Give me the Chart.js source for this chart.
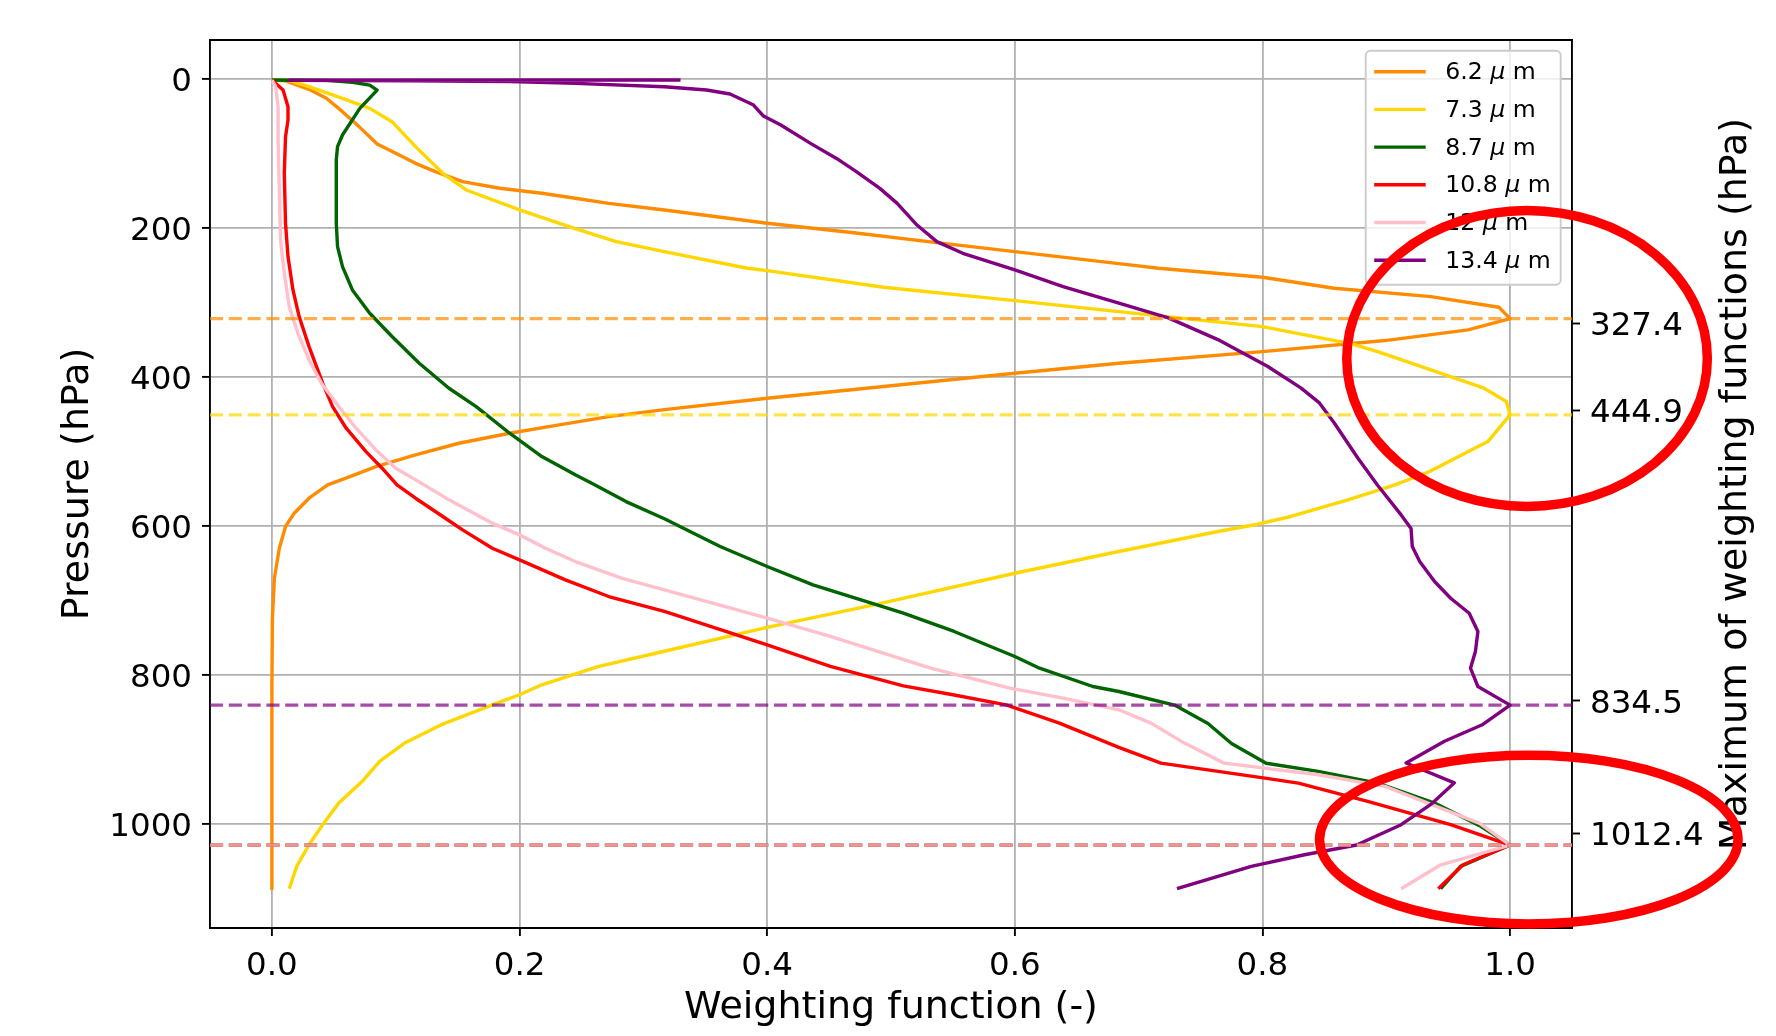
<!DOCTYPE html>
<html>
<head>
<meta charset="utf-8">
<script src="https://cdn.jsdelivr.net/npm/chart.js@4.4.1/dist/chart.umd.min.js"></script>
<style>
html,body{margin:0;padding:0;background:#fff;}
#wrap{width:1776px;height:1036px;position:relative;}
</style>
</head>
<body>
<div id="wrap"><canvas id="c" width="1776" height="1036"></canvas></div>
<script>
// ---------------- data ----------------
const seriesLabels = ['6.2 μ m', '7.3 μ m', '8.7 μ m', '10.8 μ m', '12 μ m', '13.4 μ m'];
const seriesColors = ['#ff8c00', '#ffd700', '#006400', '#ff0000', '#ffc0cb', '#800080'];

// 6.2 um  (weighting function, pressure hPa)
const w62 = [0.000,0.011,0.030,0.044,0.057,0.071,0.085,0.100,0.116,0.132,0.154,0.184,0.218,0.245,0.272,0.317,0.400,0.470,0.537,0.600,0.684,0.716,0.800,0.858,0.936,0.991,1.000,0.966,0.899,0.800,0.684,0.600,0.400,0.317,0.272,0.232,0.192,0.151,0.116,0.084,0.063,0.045,0.030,0.018,0.011,0.006,0.002,0.0004,0.000,0.000];
const p62 = [1,2,13.4,25.5,43.4,64.5,86.8,99.3,112.8,124,137.4,146.3,153,159.7,166.5,175.4,193.3,206,219.3,231.3,247.5,253.7,265.8,280.5,291.8,306.1,321.3,336.5,350.8,365.6,381.3,394.7,428.3,443.5,452.9,464.1,475.2,488.7,504.3,520,533.4,544.6,562.5,582.6,600.5,629.6,670,723.7,813,1086.8];

// 7.3 um
const w73 = [0.000,0.014,0.030,0.057,0.079,0.097,0.116,0.138,0.157,0.200,0.240,0.278,0.317,0.384,0.400,0.494,0.600,0.684,0.800,0.872,0.893,0.979,0.997,1.000,0.982,0.935,0.907,0.869,0.823,0.796,0.764,0.684,0.600,0.489,0.400,0.317,0.264,0.218,0.200,0.178,0.138,0.108,0.087,0.073,0.054,0.041,0.030,0.020,0.014];
const p73 = [1,1.5,9.9,25.5,39,56.9,90.4,126.2,148.6,175.4,197.8,218,231.4,253.7,256.8,279.2,297.1,311.9,332,355.3,365.6,414.8,432.7,450.6,486.4,526.6,544.6,564.7,587,597.4,607.2,634,663.2,704.7,736,768,788.3,813,826.4,840,865.8,890.4,915.9,942.7,971.8,1001,1027.8,1056.9,1086.8];

// 8.7 um
const w87 = [0.000,0.014,0.044,0.065,0.079,0.085,0.071,0.057,0.053,0.052,0.052,0.052,0.053,0.057,0.065,0.079,0.097,0.119,0.143,0.165,0.192,0.218,0.245,0.261,0.286,0.317,0.362,0.400,0.437,0.510,0.551,0.600,0.620,0.663,0.684,0.729,0.756,0.775,0.803,0.845,0.893,0.939,0.975,1.000,0.960,0.944];
const p87 = [1,1.2,1.4,4,7.7,14.4,39,74.8,90.4,108.3,148.6,193.3,224.6,251.5,282.8,314.1,345.4,381.3,414.8,439.4,475.2,506.5,531.1,544.6,567,590,627.3,654.2,678.8,716.8,741.4,775,790.7,815.3,822,840.3,864.9,891.8,918.4,929.3,945,971.8,1001.8,1028.2,1056.9,1086.8];

// 10.8 um
const w108 = [0.000,0.009,0.013,0.013,0.011,0.010,0.011,0.013,0.017,0.022,0.030,0.041,0.049,0.060,0.076,0.089,0.101,0.116,0.138,0.154,0.178,0.200,0.237,0.272,0.317,0.400,0.451,0.510,0.550,0.593,0.636,0.684,0.718,0.802,0.829,0.885,0.952,1.000,0.962,0.942];
const p108 = [1,14.4,36.7,54.6,77,126.2,193.3,238,282.8,318.6,358.9,408,439.4,468.5,499.9,522.2,544.6,562.5,587,605,629.6,645.3,672.1,694.5,714.5,759.3,788.4,814.4,826.4,840,864.5,897,918.2,938.3,945,969.6,1000.9,1028.2,1054.7,1086.8];

// 12 um
const w12 = [0.000,0.003,0.005,0.005,0.006,0.007,0.010,0.014,0.021,0.030,0.040,0.054,0.068,0.084,0.100,0.123,0.143,0.178,0.200,0.221,0.245,0.283,0.317,0.400,0.451,0.532,0.596,0.639,0.684,0.710,0.737,0.769,0.845,0.899,0.975,1.000,0.944,0.912];
const p12 = [1,9.9,36.7,81.5,148.6,215.7,260.4,305.2,341,376.8,408,439.4,468.5,497.6,522.2,544.6,564.7,596,611.7,629.6,647.5,670,685.5,723.5,748.1,790.7,817.5,831,846.6,864.5,891.3,918.2,933.8,949.5,998.7,1028.2,1054.7,1086.8];

// 13.4 um
const w134 = [0.330,0.014,0.111,0.192,0.245,0.317,0.351,0.370,0.389,0.397,0.411,0.435,0.456,0.472,0.491,0.505,0.521,0.537,0.558,0.600,0.639,0.684,0.724,0.764,0.804,0.831,0.846,0.858,0.877,0.893,0.912,0.920,0.921,0.927,0.939,0.952,0.967,0.974,0.972,0.968,0.974,1.000,0.978,0.947,0.916,0.955,0.936,0.912,0.876,0.834,0.791,0.731];
const p134 = [1,1.3,2,3.1,5.4,10,14.4,19.7,34.5,49.3,61.4,86,106.2,124,146.4,166.6,195.7,218,233.6,256,278.3,300.5,320.4,349.5,385.3,414.4,434.5,461.4,508.4,545,584.9,603,627.3,647.5,674.3,696.8,716.9,741.5,768.3,790.7,815.3,840.3,866.3,888.8,918,944.7,973.7,1000.9,1028.2,1041.2,1056.9,1086.8];

// pressure level of each series' maximum (dashed lines)
const peakLevels = [321.3, 450.6, 1028.2, 1028.2, 1028.2, 840.3];
// tick values
const xTicks = [0, 0.2, 0.4, 0.6, 0.8, 1.0];
const yTicks = [0, 200, 400, 600, 800, 1000];
const maxTicks = [327.4, 444.9, 834.5, 1012.4];
// hand-drawn highlight ellipses (data coordinates)
const highlightCx = [1.0137, 1.0151];
const highlightCy = [374.8, 1020.9];
const highlightRx = [0.1456, 0.1690];
const highlightRy = [198.7, 113.3];

// ---------------- chart ----------------
const FAMILY = '"DejaVu Sans", sans-serif';
const weights = [w62, w73, w87, w108, w12, w134];
const pressures = [p62, p73, p87, p108, p12, p134];

function rgba(hex, a) {
  const n = parseInt(hex.slice(1), 16);
  return `rgba(${(n >> 16) & 255},${(n >> 8) & 255},${n & 255},${a})`;
}

const datasets = seriesLabels.map((lbl, i) => ({
  label: lbl,
  data: weights[i].map((w, k) => ({ x: w, y: pressures[i][k] })),
  borderColor: seriesColors[i],
  backgroundColor: seriesColors[i],
  borderWidth: 3.4,
  pointRadius: 0,
  pointHoverRadius: 0,
  showLine: true,
  fill: false,
  tension: 0,
  borderJoinStyle: 'round',
  order: seriesLabels.length - i
}));

const tickFont = { family: FAMILY, size: 32.5 };
const titleFont = { family: FAMILY, size: 38 };

const overlayPlugin = {
  id: 'overlay',
  beforeDraw(chart) {
    // centre digit glyphs on their ticks (matplotlib 'center_baseline' look)
    ['y', 'y2'].forEach(id => {
      const items = chart.scales[id].getLabelItems();
      if (!items._shifted) {
        items.forEach(it => { it.textOffset += 3.3; });
        items._shifted = true;
      }
    });
  },
  afterDatasetsDraw(chart) {
    const ctx = chart.ctx, ca = chart.chartArea, yS = chart.scales.y;
    ctx.save();
    ctx.beginPath();
    ctx.rect(ca.left, ca.top, ca.right - ca.left, ca.bottom - ca.top);
    ctx.clip();
    ctx.setLineDash([13.1, 5.7]);
    ctx.lineWidth = 3.3;
    peakLevels.forEach((lv, i) => {
      const y = yS.getPixelForValue(lv);
      ctx.strokeStyle = rgba(seriesColors[i], 0.7);
      ctx.beginPath();
      ctx.moveTo(ca.left, y);
      ctx.lineTo(ca.right, y);
      ctx.stroke();
    });
    ctx.restore();
  },
  afterDraw(chart) {
    const ctx = chart.ctx, ca = chart.chartArea;
    const xS = chart.scales.x, yS = chart.scales.y;
    ctx.save();
    // top spine
    ctx.strokeStyle = '#000';
    ctx.lineWidth = 1.9;
    ctx.beginPath();
    ctx.moveTo(ca.left - 1, ca.top);
    ctx.lineTo(ca.right + 1, ca.top);
    ctx.stroke();

    // right axis title (reads bottom-to-top)
    ctx.save();
    ctx.translate(ca.right + 164, (ca.top + ca.bottom) / 2);
    ctx.rotate(-Math.PI / 2);
    ctx.font = `38px ${FAMILY}`;
    ctx.fillStyle = '#000';
    ctx.textAlign = 'center';
    ctx.textBaseline = 'middle';
    ctx.fillText('Maximum of weighting functions (hPa)', 0, 0);
    ctx.restore();

    // legend
    const fs = 23.6;
    const boxW = 195, boxH = 234;
    const boxL = ca.right - 11.3 - boxW, boxT = ca.top + 10.7;
    ctx.beginPath();
    if (ctx.roundRect) ctx.roundRect(boxL, boxT, boxW, boxH, 5);
    else ctx.rect(boxL, boxT, boxW, boxH);
    ctx.fillStyle = 'rgba(255,255,255,0.8)';
    ctx.fill();
    ctx.strokeStyle = '#cccccc';
    ctx.lineWidth = 1.9;
    ctx.stroke();
    chart.data.datasets.forEach((ds, i) => {
      const y = boxT + 21 + i * 37.7;
      ctx.strokeStyle = ds.borderColor;
      ctx.lineWidth = 3.4;
      ctx.beginPath();
      ctx.moveTo(boxL + 8.5, y);
      ctx.lineTo(boxL + 60, y);
      ctx.stroke();
      const parts = ds.label.split('μ');
      ctx.fillStyle = '#000';
      ctx.textAlign = 'left';
      ctx.textBaseline = 'middle';
      let tx = boxL + 79.5;
      ctx.font = `${fs}px ${FAMILY}`;
      ctx.fillText(parts[0], tx, y + 1.5);
      tx += ctx.measureText(parts[0]).width;
      ctx.font = `oblique ${fs}px ${FAMILY}`;
      ctx.fillText('μ', tx, y + 1.5);
      tx += ctx.measureText('μ').width;
      ctx.font = `${fs}px ${FAMILY}`;
      ctx.fillText(parts[1], tx, y + 1.5);
    });

    // highlight ellipses
    ctx.strokeStyle = '#ff0000';
    ctx.lineWidth = 9.5;
    highlightCx.forEach((cx, i) => {
      const px = xS.getPixelForValue(cx);
      const py = yS.getPixelForValue(highlightCy[i]);
      const rx = Math.abs(xS.getPixelForValue(cx + highlightRx[i]) - px);
      const ry = Math.abs(yS.getPixelForValue(highlightCy[i] + highlightRy[i]) - py);
      ctx.beginPath();
      ctx.ellipse(px, py, rx, ry, 0, 0, Math.PI * 2);
      ctx.stroke();
    });
    ctx.restore();
  }
};

new Chart(document.getElementById('c'), {
  type: 'scatter',
  data: { datasets },
  plugins: [overlayPlugin],
  options: {
    responsive: false,
    devicePixelRatio: 1,
    animation: false,
    events: [],
    layout: { padding: { top: 40, left: 0, right: 0, bottom: 0 } },
    plugins: { legend: { display: false }, tooltip: { enabled: false } },
    scales: {
      x: {
        type: 'linear', position: 'bottom', min: -0.05, max: 1.05,
        afterBuildTicks: s => { s.ticks = xTicks.map(v => ({ value: v })); },
        afterFit: s => { s.height = 108; },
        ticks: { callback: v => Number(v).toFixed(1), font: tickFont, color: '#000', padding: 11.5, autoSkip: false, maxRotation: 0 },
        grid: { color: '#b0b0b0', lineWidth: 1.8, drawTicks: true, tickLength: 8, tickWidth: 1.9, tickColor: '#000' },
        border: { display: true, color: '#000', width: 1.9 },
        title: { display: true, text: 'Weighting function (-)', font: titleFont, color: '#000', padding: { top: 0, bottom: 5 } }
      },
      y: {
        type: 'linear', position: 'left', reverse: true, min: -52.8, max: 1139.6,
        afterBuildTicks: s => { s.ticks = yTicks.map(v => ({ value: v })); },
        afterFit: s => { s.width = 210; },
        ticks: { callback: v => String(v), font: tickFont, color: '#000', padding: 10, autoSkip: false },
        grid: { color: '#b0b0b0', lineWidth: 1.8, drawTicks: true, tickLength: 8, tickWidth: 1.9, tickColor: '#000' },
        border: { display: true, color: '#000', width: 1.9 },
        title: { display: true, text: 'Pressure (hPa)', font: titleFont, color: '#000', padding: { top: 55.5, bottom: 0 } }
      },
      y2: {
        type: 'linear', position: 'right', reverse: true, min: -52.8, max: 1139.6,
        afterBuildTicks: s => { s.ticks = maxTicks.map(v => ({ value: v })); },
        afterFit: s => { s.width = 204; },
        ticks: { callback: v => Number(v).toFixed(1), font: tickFont, color: '#000', padding: 10, autoSkip: false },
        grid: { drawOnChartArea: false, color: '#000', drawTicks: true, tickLength: 8, tickWidth: 1.9, tickColor: '#000' },
        border: { display: true, color: '#000', width: 1.9 }
      }
    }
  }
});
</script>
</body>
</html>
